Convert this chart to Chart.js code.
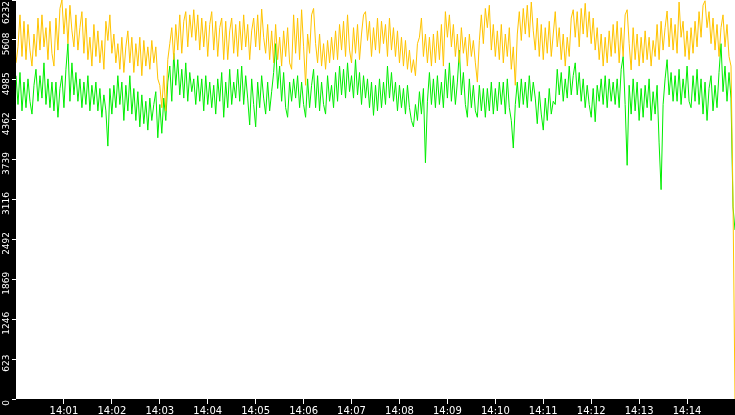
<!DOCTYPE html>
<html>
<head>
<meta charset="utf-8">
<script src="https://cdn.jsdelivr.net/npm/chart.js@4.4.1/dist/chart.umd.min.js"></script>
<style>
  html, body { margin: 0; padding: 0; background: #000; overflow: hidden; }
  canvas { display: block; }
</style>
</head>
<body>
<canvas id="rate" width="735" height="415"></canvas>
<script>
(function () {
  // one sample every 2.5 s, 14:00:00 .. 14:15:00
  const stepSec = 2.5
  const startMinute = 0

  const orangeValues = [
    5250, 5500, 6000, 5350, 5900, 5300, 5850, 5450, 5200, 5700,
    5350, 5950, 5450, 6000, 5500, 5800, 5300, 5900, 5400, 5200,
    5950, 5450, 6100, 6232, 5700, 6100, 5550, 6150, 5750, 5500,
    6000, 5450, 5800, 6050, 5400, 5950, 5300, 5650, 5200, 5850,
    5350, 5750, 5250, 5600, 5150, 5900, 5600, 6000, 5400, 5700,
    5250, 5550, 5150, 5650, 5100, 5500, 5750, 5250, 5650, 5100,
    5550, 5200, 5650, 5050, 5600, 5200, 5500, 5150, 5600, 5250,
    5500, 5000, 4900, 4550, 5050, 4500, 5300, 5550, 5800, 5300,
    5850, 5450, 6000, 5400, 5900, 6050, 5500, 6000, 5650, 6080,
    5600, 6000, 5450, 5950, 5500, 5900, 5350, 5850, 6050, 5450,
    5900, 5350, 5800, 5950, 5300, 5900, 5300, 5750, 5950, 5400,
    5850, 5350, 5900, 5450, 6000, 5500, 5850, 5300, 5750, 5950,
    5500, 6000, 5450, 6090, 5650, 5400, 5850, 5300, 5750, 5250,
    5850, 5300, 5650, 5200, 5750, 5350, 5800, 5250, 5150, 6000,
    5400, 5950, 5300, 6080, 5500, 4900, 5700, 5400, 6000, 6100,
    5550, 5250, 5700, 5200, 5550, 5150, 5600, 5250, 5650, 5300,
    5750, 5300, 5850, 5450, 5900, 5350, 6000, 5450, 5250, 5800,
    5400, 5850, 5300, 5700, 6000, 6050, 5600, 5900, 5350, 5800,
    5450, 5950, 5400, 5900, 5550, 5850, 5350, 5950, 5450, 5800,
    5350, 5750, 5250, 5650, 5200, 5600, 5150, 5450, 5100, 5300,
    5050, 5550, 5650, 5950, 5350, 5700, 5250, 5650, 5200, 5700,
    5250, 5750, 5300, 5850, 5200, 6050, 5650, 6000, 5500, 5850,
    5350, 5700, 5250, 5800, 5400, 5650, 5200, 5700, 5350, 5600,
    5250, 4950, 5600, 6000, 5550, 6100, 5800, 6150, 5450, 5850,
    5350, 5750, 5300, 5850, 5250, 5700, 5350, 5800, 5150, 5500,
    4900, 5700, 6050, 5600, 6100, 5700, 6150, 5650, 6200, 5750,
    5450, 5950, 5350, 5850, 5300, 5800, 5400, 5900, 5350, 5700,
    6050, 5500, 5800, 5300, 5700, 5200, 5650, 5350, 5950, 6080,
    5650, 6050, 5500, 6100, 5700, 6180, 5650, 6050, 5550, 5950,
    5450, 5800, 5300, 5700, 5200, 5650, 5250, 5750, 5350, 5850,
    5400, 5900, 5250, 5800, 5350, 6000, 6080, 5550, 5140, 5800,
    5300, 5700, 5200, 5650, 5250, 5750, 5300, 5650, 5200, 5600,
    5350, 5850, 5300, 5900, 5450, 5800, 6060, 5500, 5950, 5450,
    5850, 5400, 6200, 5650, 5900, 5350, 5750, 5300, 5800, 5400,
    5900, 5500, 6050, 5650, 6150, 6220, 5800, 6050, 5550, 5950,
    5450, 5850, 5350, 5800, 6000, 5500, 5850, 5350, 5200, 3100,
    0
  ]

  const greenValues = [
    5050, 4600, 5100, 4500, 4950, 4550, 5000, 4650, 4450, 4900,
    5150, 4650, 5050, 4700, 5250, 4600, 5000, 4550, 4950, 4500,
    4950, 4400, 4850, 5050, 4550, 5150, 5550, 4650, 5250, 4750,
    5100, 4650, 5000, 4550, 4950, 4600, 5050, 4500, 4900, 4600,
    4950, 4500, 4850, 4400, 4750, 4500, 3950, 4850, 4450, 4900,
    4550, 5050, 4600, 4950, 4350, 4900, 4500, 5050, 4450, 4850,
    4350, 4800, 4250, 4750, 4300, 4650, 4200, 4700, 4350, 4600,
    4800, 4080, 4600, 4150, 4700, 4350, 4950, 5200, 4650, 5400,
    4900, 5300, 4750, 5150, 4700, 5250, 4650, 5100, 4800, 5000,
    4600, 5050, 4650, 5000, 4500, 5050, 4600, 4950, 4550, 4900,
    4450, 5000, 4650, 5100, 4400, 4950, 4550, 5150, 4600, 4950,
    4700, 5150, 4650, 5200, 4600, 5050, 4700, 4280, 5000, 4600,
    4250, 4950, 4550, 5050, 4700, 4450, 4950, 4500, 4800, 5100,
    5550, 4850, 5200, 4650, 5100, 4550, 4400, 4950, 4650, 5000,
    4700, 5050, 4550, 4950, 4600, 4400, 5000, 4550, 4900, 5150,
    4550, 5050, 4500, 4950, 4600, 4450, 5050, 4650, 4900, 4550,
    5100, 4650, 5200, 4750, 5150, 4700, 5250, 4800, 5050, 4700,
    5300, 4750, 5100, 4600, 5050, 4700, 5000, 4550, 4950, 4430,
    4900, 4500, 5000, 4550, 4950, 4600, 5200, 4700, 5100, 4650,
    4950, 4500, 4900, 4550, 4850, 4450, 4900, 4550, 4350, 4250,
    4600, 4350, 4800, 4450, 4850, 3690, 4650, 5100, 4600, 5000,
    4550, 5050, 4600, 4950, 4550, 5150, 4700, 5250, 4650, 5050,
    4600, 4950, 5450, 4750, 5100, 4600, 4400, 5000, 4550, 4900,
    4500, 4400, 4900, 4500, 4850, 4400, 4850, 4500, 4950, 4450,
    4850, 4500, 4950, 4600, 4950, 4450, 5000, 4550, 4350, 3920,
    4600, 4950, 4550, 5000, 4600, 4950, 4550, 5050, 4650, 4950,
    4700, 4300, 4800, 4450, 4200, 4700, 4350, 4850, 4450, 4650,
    4600, 5150, 4750, 5100, 4650, 5000, 4700, 5200, 4750, 5050,
    5250, 4750, 5100, 4650, 5000, 4550, 4900, 4600, 4400, 4850,
    4330, 4900, 4650, 5000, 4600, 5050, 4550, 5000, 4650, 4950,
    4600, 5000, 4550, 5150, 5350, 4600, 3650, 4900, 4450, 5000,
    4500, 4950, 4350, 4850, 4400, 4900, 4550, 5000, 4350, 4800,
    4450, 4900, 4000, 3270, 4600, 5000, 5300, 4750, 5100, 4650,
    5050, 4650, 5150, 4600, 5000, 4700, 5200, 4650, 4550, 5050,
    4650, 5150, 4600, 5000, 4450, 4950, 4350, 4850, 5050, 4500,
    4900, 4550, 5100, 5550, 4800, 5200, 4650, 5100, 4700, 3000,
    2640
  ]

  const yMax = 6232
  const yTickLabels = ['0', '623', '1246', '1869', '2492', '3116', '3739', '4362', '4985', '5608', '6232']
  const xTickSeconds = [60, 120, 180, 240, 300, 360, 420, 480, 540, 600, 660, 720, 780, 840]
  const xTickLabels = ['14:01', '14:02', '14:03', '14:04', '14:05', '14:06', '14:07',
                       '14:08', '14:09', '14:10', '14:11', '14:12', '14:13', '14:14']

  function toPoints(values) {
    return values.map((v, i) => ({ x: startMinute * 60 + i * stepSec, y: v }))
  }

  const lineStyle = {
    borderWidth: 1,
    pointRadius: 0,
    tension: 0,
    fill: false
  }

  // black frame, white plot area
  const framePlugin = {
    id: 'frame',
    beforeDraw(chart) {
      const { ctx, chartArea: a } = chart
      ctx.save()
      ctx.fillStyle = '#000'
      ctx.fillRect(0, 0, chart.width, chart.height)
      ctx.fillStyle = '#fff'
      ctx.fillRect(a.left, a.top, a.right - a.left, a.bottom - a.top)
      ctx.restore()
    }
  }

  // rotated y labels, hanging just below their tick, top one kept inside
  const yLabelPlugin = {
    id: 'yLabels',
    afterDraw(chart) {
      const { ctx } = chart
      const scale = chart.scales.y
      ctx.save()
      ctx.fillStyle = '#fff'
      ctx.font = '9px "DejaVu Sans"'
      ctx.textAlign = 'center'
      ctx.textBaseline = 'middle'
      scale.ticks.forEach((t, i) => {
        const label = yTickLabels[i]
        const w = ctx.measureText(label).width
        const c = Math.max(scale.getPixelForValue(t.value) + 4, 1 + w / 2)
        ctx.save()
        ctx.translate(7, c)
        ctx.rotate(-Math.PI / 2)
        ctx.fillText(label, 0, 0)
        ctx.restore()
      })
      ctx.restore()
    }
  }

  new Chart(document.getElementById('rate').getContext('2d'), {
    type: 'line',
    data: {
      datasets: [
        Object.assign({ data: toPoints(orangeValues), borderColor: '#ffc400' }, lineStyle),
        Object.assign({ data: toPoints(greenValues), borderColor: '#00ee00' }, lineStyle)
      ]
    },
    plugins: [framePlugin, yLabelPlugin],
    options: {
      responsive: false,
      animation: false,
      devicePixelRatio: 1,
      layout: { padding: 0 },
      plugins: { legend: { display: false }, tooltip: { enabled: false } },
      scales: {
        x: {
          type: 'linear',
          min: 0,
          max: 900,
          afterBuildTicks(scale) {
            scale.ticks = xTickSeconds.map(v => ({ value: v }))
          },
          afterFit(scale) {
            scale.height = 16
            scale.paddingLeft = 0
            scale.paddingRight = 0
          },
          border: { display: false },
          grid: { drawOnChartArea: false, drawTicks: true, tickLength: 5, color: '#fff' },
          ticks: {
            autoSkip: false,
            maxRotation: 0,
            padding: 1,
            color: '#fff',
            font: { family: 'DejaVu Sans', size: 10 },
            callback: (v, i) => xTickLabels[i]
          }
        },
        y: {
          min: 0,
          max: yMax,
          afterBuildTicks(scale) {
            scale.ticks = yTickLabels.map((t, i) => ({ value: i * yMax / (yTickLabels.length - 1) }))
          },
          afterFit(scale) {
            scale.width = 16
            scale.paddingTop = 0
            scale.paddingBottom = 0
          },
          border: { display: false },
          grid: { drawOnChartArea: false, drawTicks: true, tickLength: 4, color: '#fff' },
          ticks: { display: false }
        }
      }
    }
  })
}())
</script>
</body>
</html>
